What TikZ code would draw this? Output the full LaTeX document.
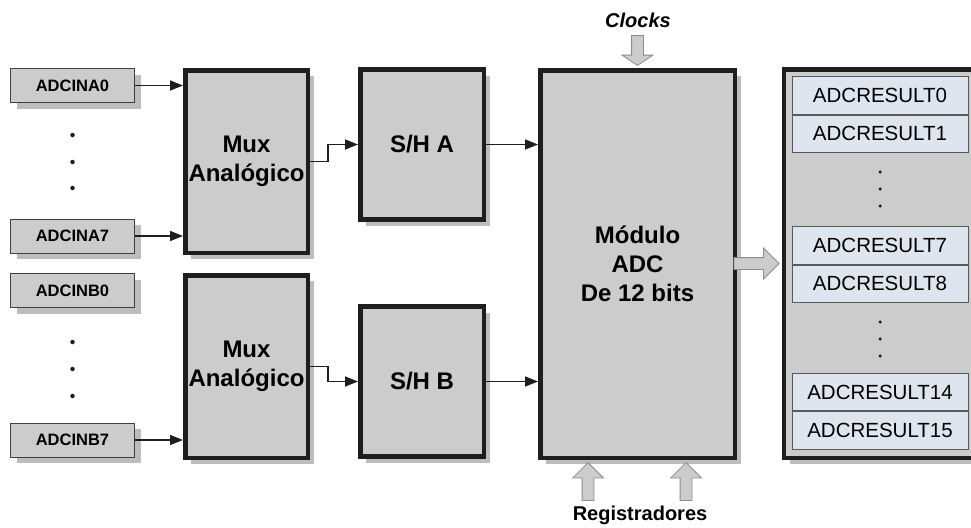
\documentclass[tikz,border=0pt]{standalone}
\usepackage{fontspec}
\setmainfont{Liberation Sans}
\usepackage{tikz}
\usetikzlibrary{calc,positioning,arrows.meta,shadows,shapes.arrows}
\definecolor{boxGray}{HTML}{CCCCCC}
\definecolor{shadowGray}{HTML}{BDBDBD}
\definecolor{regBlue}{HTML}{DEE5EE}
\definecolor{lineDark}{HTML}{1E1E1E}

\begin{document}
\begin{tikzpicture}[x=1pt, y=-1pt,
  boxshadow/.style={drop shadow={shadow xshift=6pt, shadow yshift=-6pt, fill=shadowGray, opacity=1}},
  inbox/.style={
    rectangle, draw=lineDark!85, fill=boxGray, line width=1pt,
    minimum width=124pt, minimum height=34pt, inner sep=0pt,
    font=\bfseries\fontsize{16.5}{18}\selectfont, boxshadow
  },
  block/.style={
    rectangle, draw=lineDark, fill=boxGray, line width=4.5pt,
    inner sep=0pt, align=center,
    font=\bfseries\fontsize{24}{29}\selectfont, boxshadow
  },
  reg/.style={
    rectangle, draw=black!65, fill=regBlue, line width=0.8pt,
    minimum width=176pt, minimum height=37.5pt, inner sep=0pt,
    font=\fontsize{20.5}{22}\selectfont
  },
  arr/.style={-{Triangle[length=13pt,width=10pt]}, line width=1.5pt, lineDark},
  fat/.style={
    single arrow, draw=black!45, fill=boxGray, line width=0.8pt,
    inner sep=5.5pt, single arrow head extend=9.5pt,
    minimum height=#1, anchor=tip
  },
  dot/.style={circle, fill=lineDark, inner sep=0pt, minimum size=#1},
  lbl/.style={font=\bfseries\fontsize{20}{22}\selectfont},
]
\useasboundingbox (0,0) rectangle (971,527);
\clip (0,0) rectangle (971,527);

% === Inputs ===
\node[inbox] (ina0) at (72.5,85.5) {ADCINA0};
\node[inbox] (ina7) at (72.5,236) {ADCINA7};
\node[inbox] (inb0) at (72.5,290.5) {ADCINB0};
\node[inbox] (inb7) at (72.5,440) {ADCINB7};
\foreach \y in {135,162,188,342,369,396}
  \node[dot=4.5pt] (din\y) at (72.5,\y) {};

% === Multiplexers and S/H ===
\node[block, minimum width=122.5pt, minimum height=182.5pt] (muxa) at (246.5,161.5) {Mux\\Analógico};
\node[block, minimum width=122.5pt, minimum height=182.5pt] (muxb) at (246.5,366.5) {Mux\\Analógico};
\node[block, minimum width=123.5pt, minimum height=150pt] (sha) at (422,144.5) {S/H A};
\node[block, minimum width=123.5pt, minimum height=150pt] (shb) at (422,381.5) {S/H B};

% === ADC ===
\node[block, minimum width=194.5pt, minimum height=387.5pt] (adc) at (637.5,264) {Módulo\\ADC\\De 12 bits};

% === Result registers ===
\node[block, minimum width=196pt, minimum height=388.5pt] (res) at (882,263.5) {};
\node[reg] (r0) at (880,95.5) {ADCRESULT0};
\node[reg, below=0pt of r0] (r1) {ADCRESULT1};
\node[reg] (r7) at (880,245.5) {ADCRESULT7};
\node[reg, below=0pt of r7] (r8) {ADCRESULT8};
\node[reg] (r14) at (880,392) {ADCRESULT14};
\node[reg, below=0pt of r14] (r15) {ADCRESULT15};
\foreach \y in {172,189,206,322,339,356}
  \node[dot=3.5pt] (dres\y) at (880,\y) {};

% Input arrows
\draw[arr] (ina0.east) -- (ina0.east -| muxa.west);
\draw[arr] (ina7.east) -- (ina7.east -| muxa.west);
\draw[arr] (inb7.east) -- (inb7.east -| muxb.west);

% Mux to S/H
\draw[arr] (muxa.east) -- ++(18,0) |- (sha.west);
\draw[arr] (muxb.east) -- ++(18,0) |- (shb.west);

% S/H to ADC
\draw[arr] (sha.east) -- (sha.east -| adc.west);
\draw[arr] (shb.east) -- (shb.east -| adc.west);

% === Block arrows ===
\node[lbl, font=\bfseries\itshape\fontsize{20}{22}\selectfont] (clk) at (638,20) {Clocks};
\node[fat=30pt, shape border rotate=270, single arrow tip angle=112, yshift=2pt] (clkarr) at (adc.north) {};
\node[lbl] (regs) at (640,515) {Registradores};
\node[fat=38pt, shape border rotate=90, yshift=-2pt] (regl) at ($(adc.south)+(-49.5,0)$) {};
\node[fat=38pt, shape border rotate=90, yshift=-2pt] (regr) at ($(adc.south)+(48.5,0)$) {};
\node[fat=45pt, shape border rotate=0, xshift=-2.25pt] (outarr) at (res.west) {};

\end{tikzpicture}
\end{document}
